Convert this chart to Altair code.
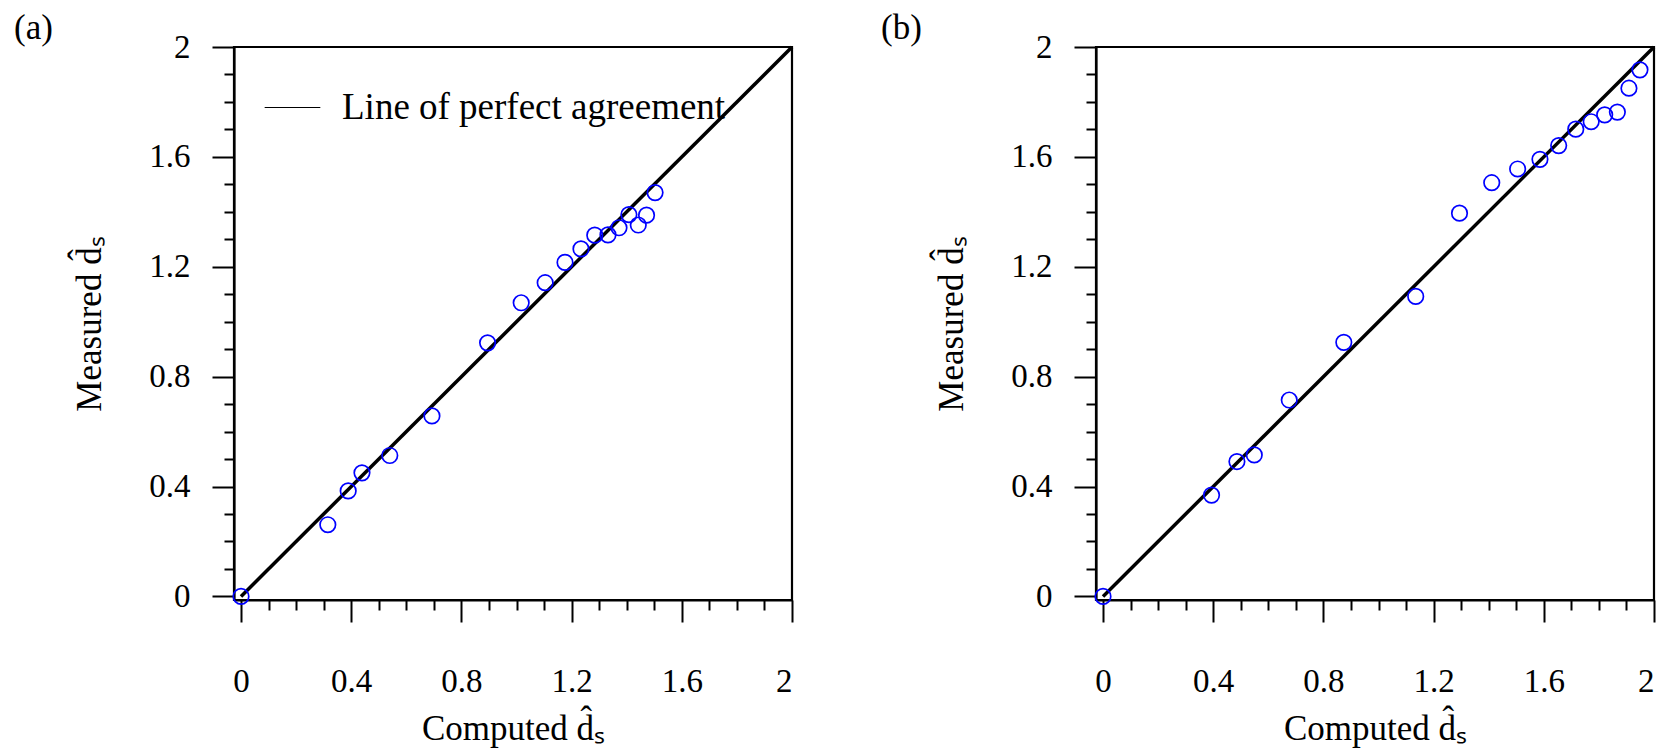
import altair as alt
import pandas as pd

# ---- data ----
a_computed = [0.0, 0.315, 0.389, 0.439, 0.540, 0.693, 0.895, 1.017, 1.104, 1.176,
              1.234, 1.284, 1.332, 1.372, 1.408, 1.442, 1.472, 1.503]
a_measured = [0.0, 0.261, 0.384, 0.450, 0.513, 0.657, 0.923, 1.069, 1.142, 1.216,
              1.265, 1.315, 1.316, 1.342, 1.390, 1.352, 1.388, 1.470]

b_computed = [0.0, 0.394, 0.486, 0.549, 0.676, 0.874, 1.135, 1.294, 1.411, 1.505,
              1.586, 1.654, 1.716, 1.772, 1.821, 1.867, 1.909, 1.949]
b_measured = [0.0, 0.369, 0.491, 0.515, 0.715, 0.925, 1.092, 1.395, 1.506, 1.556,
              1.591, 1.641, 1.701, 1.728, 1.753, 1.763, 1.850, 1.917]

line_x = [0.0, 2.0]
line_y = [0.0, 2.0]
legend_label = "Line of perfect agreement"
panel_labels = ["(a)", "(b)"]
major_ticks = [0, 0.4, 0.8, 1.2, 1.6, 2]
all_ticks = [round(i * 0.1, 1) for i in range(21)]

FONT = "Liberation Serif"
W, H = 558, 553
XDOM = [-0.0255, 2.0]
YDOM = [-0.013, 2.0]

is_major = "indexof([0,0.4,0.8,1.2,1.6,2], datum.value) >= 0"
label_expr = is_major + " ? '' + datum.value : ''"


def make_axis(title, orient):
    common = dict(
        values=all_ticks,
        labelExpr=label_expr,
        tickSize={"condition": {"test": is_major, "value": 22}, "value": 10},
        tickWidth=2,
        tickColor="black",
        domainColor="black",
        domainWidth=2.2,
        labelFont=FONT,
        labelFontSize=33,
        labelColor="black",
        titleFont=FONT,
        titleFontSize=35,
        titleFontWeight="normal",
        titleColor="black",
        grid=False,
        title=title,
        labelOverlap=False,
        orient=orient,
    )
    if orient == "bottom":
        common.update(labelPadding=43, titlePadding=13)
    else:
        common.update(labelPadding=22, titlePadding=41)
    return alt.Axis(**common)


def panel(comp, meas, label, label_dx, with_legend):
    pts = pd.DataFrame({"computed": comp, "measured": meas})
    ln = pd.DataFrame({"computed": line_x, "measured": line_y, "key": [legend_label] * 2})
    xs = alt.Scale(domain=XDOM, nice=False, zero=False)
    ys = alt.Scale(domain=YDOM, nice=False, zero=False)
    x = alt.X("computed:Q", scale=xs, axis=make_axis("Computed d\u0302\u209b", "bottom"))
    y = alt.Y("measured:Q", scale=ys, axis=make_axis("Measured d\u0302\u209b", "left"))

    if with_legend:
        stroke = alt.Stroke(
            "key:N",
            scale=alt.Scale(domain=[legend_label], range=["black"]),
            legend=alt.Legend(
                title=None,
                orient="none",
                legendX=30,
                legendY=32,
                padding=0,
                symbolType="stroke",
                symbolSize=3100,
                symbolStrokeWidth=1,
                labelFont=FONT,
                labelFontSize=37,
                labelColor="black",
                labelOffset=21,
                labelLimit=1000,
            ),
        )
    else:
        stroke = alt.value("black")

    line = alt.Chart(ln).mark_line(strokeWidth=3.5).encode(x=x, y=y, stroke=stroke)
    points = alt.Chart(pts).mark_point(
        shape="circle", filled=False, color="#0000ff", size=240, strokeWidth=1.7, opacity=1
    ).encode(x=x, y=y)
    lab = alt.Chart(pd.DataFrame({"t": [label]})).mark_text(
        align="left", baseline="alphabetic", font=FONT, fontSize=35, color="black"
    ).encode(text="t:N", x=alt.value(label_dx), y=alt.value(-8.5))
    return alt.layer(line, points, lab).properties(width=W, height=H)


pa = panel(a_computed, a_measured, panel_labels[0], -220, True)
pb = panel(b_computed, b_measured, panel_labels[1], -215, False)

chart = (
    alt.hconcat(pa, pb, spacing=78)
    .properties(padding={"left": 12, "top": 9, "right": 5, "bottom": 5}, background="white")
    .configure_view(stroke="black", strokeWidth=2.2)
)

chart.save("out.html", embed_options={"renderer": "svg", "actions": False})
